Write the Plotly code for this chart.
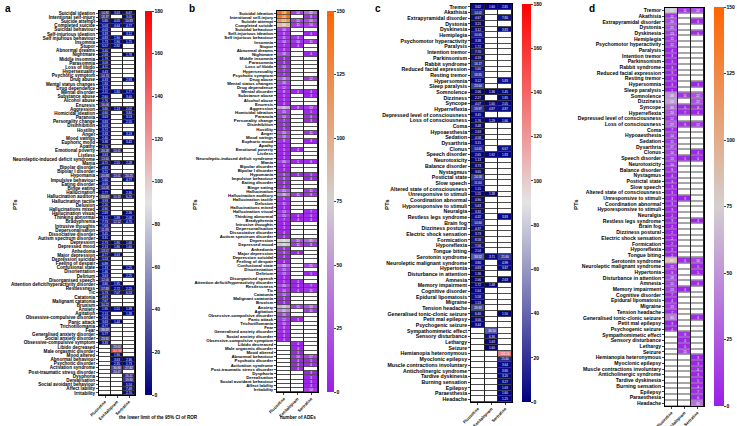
import plotly.graph_objects as go

W, H = 737, 426

drugs = ["Fluoxetine", "Escitalopram", "Sertraline"]

# psychiatric PTs (panels a and b)
psy_pts = [
    "Suicidal ideation", "Intentional self-injury", "Suicide attempt", "Completed suicide",
    "Suicidal behaviour", "Self-injurious ideation", "Self injurious behaviour", "Insomnia",
    "Stupor", "Abnormal dreams", "Nightmare", "Middle insomnia", "Parasomnia", "Loss of libido",
    "Hypersexuality", "Psychotic symptom", "Drug abuse", "Mental status changes",
    "Drug dependence", "Mental disorder", "Substance abuse", "Alcohol abuse", "Enuresis",
    "Aggression", "Homicidal ideation", "Paranoia", "Personality change", "Disinhibition",
    "Hostility", "Anger", "Mood swings", "Euphoric mood", "Apathy", "Emotional poverty",
    "Listless", "Neuroleptic-induced deficit syndrome", "Mania", "Bipolar disorder",
    "Bipolar I disorder", "Hypomania", "Impulsive behaviour", "Eating disorder", "Binge eating",
    "Hallucination", "Hallucination auditory", "Hallucination tactile", "Delusion",
    "Hallucinations mixed", "Hallucination visual", "Thinking abnormal", "Bradyphrenia",
    "Intrusive thoughts", "Depersonalisation", "Dissociative disorder",
    "Autism spectrum disorder", "Depression", "Depressed mood", "Anhedonia", "Major depression",
    "Depression suicidal", "Feeling of despair", "Confusional state", "Disorientation",
    "Delirium", "Disorganised speech", "Attention deficit/hyperactivity disorder",
    "Restlessness", "Tic", "Catatonia", "Malignant catatonia", "Bruxism", "Anxiety",
    "Agitation", "Obsessive-compulsive disorder", "Panic attack", "Trichotillomania", "Fear",
    "Generalised anxiety disorder", "Social anxiety disorder", "Obsessive-compulsive symptom",
    "Libido decreased", "Male orgasmic disorder", "Mood altered", "Abnormal behaviour",
    "Psychotic disorder", "Activation syndrome", "Post-traumatic stress disorder", "Dysphoria",
    "Derealisation", "Social avoidant behaviour", "Affect lability", "Irritability",
]

N = None

psy_ror_flu = [
    14.83, 18.37, 5.80, 5.03, 4.03, 3.33, 4.83, 1.73, 5.57, 3.40,
    2.68, 1.79, 3.09, 4.11, 3.43, 14.70, 4.33, 1.84, 3.11, 2.11,
    2.60, 2.76, 16.06, 3.80, 4.60, 3.63, 3.83, 6.63, 3.72, 3.33,
    2.40, 3.38, 2.70, 20.28, 3.63, 13.60, 4.71, 4.83, 3.21, 20.83,
    5.60, 4.00, 14.08, 1.77, 33.67, 3.93, 2.20, 4.90, 2.83, 3.11,
    7.73, 7.63, 11.89, 3.45, 3.31, 2.73, 2.13, 13.57, 4.77, 5.53,
    6.89, 1.33, 1.46, 3.63, 12.00, 3.80, 17.83, 5.73, 4.63, 7.67,
    10.22, 1.95, 2.13, 3.63, 3.63, 4.77, 39.37, 5.77, 23.92, 3.33,
    N, N, N, N, N, N, N, N, N, N, N, N,
]
psy_ror_esc = [
    3.63, N, 4.05, 4.64, N, N, 1.90, 1.90, 2.82, N,
    N, N, N, N, N, N, N, N, N, 1.80,
    N, N, N, 1.13, N, N, N, N, N, N,
    N, N, N, 10.61, N, N, 2.55, N, N, 13.01,
    N, N, N, N, 10.33, N, N, N, N, 1.89,
    12.52, N, N, N, N, 1.80, 1.86, N, 3.63, N,
    N, N, N, N, N, 1.95, 2.72, 7.07, N, N,
    N, 1.51, N, N, 1.44, N, N, N, N, N,
    29.63, 163.98, 1.90, 3.63, 2.35, 30.80, 24.47, N, N, N, N, N,
]
psy_ror_ser = [
    6.67, 3.05, 10.83, 4.77, N, 3.12, N, 1.75, N, N,
    1.78, N, N, N, N, N, 2.93, N, N, 1.77,
    3.40, N, N, 2.02, 3.84, 3.53, 2.55, N, N, 3.19,
    N, 3.42, N, N, N, N, 2.28, N, N, 20.25,
    4.77, N, N, 2.36, 6.25, N, N, N, 2.36, 2.08,
    4.75, N, N, N, N, 1.68, 1.60, N, N, N,
    N, 1.25, N, 2.25, N, N, 2.25, 6.53, N, N,
    N, 1.39, 1.38, N, N, N, N, N, N, N,
    N, N, N, 2.36, 1.73, 27.82, N, 16.41, 19.80, 5.54, 7.49, 2.70,
]

psy_n_flu = [
    148, 140, 115, 90, 14, 8, 11, 14, 7, 8,
    18, 3, 3, 10, 7, 7, 26, 16, 12, 8,
    5, 5, 4, 55, 15, 14, 7, 5, 5, 20,
    18, 8, 5, 5, 3, 3, 20, 6, 3, 9,
    8, 4, 4, 25, 38, 6, 11, 3, 13, 15,
    7, 3, 3, 4, 4, 75, 70, 6, 9, 4,
    4, 33, 15, 13, 3, 5, 20, 10, 14, 3,
    3, 58, 45, 16, 12, 10, 8, 8, 4, 4,
    N, N, N, N, N, N, N, N, N, N, N, N,
]
psy_n_esc = [
    14, N, 15, 11, N, N, 9, 10, 4, N,
    N, N, N, N, N, N, N, N, N, 4,
    N, N, N, 9, N, N, N, N, N, N,
    N, N, N, 4, N, N, 5, N, N, 3,
    N, N, N, N, 11, N, N, N, N, 4,
    4, N, N, N, N, 20, 11, N, 4, N,
    N, N, N, N, N, 4, 4, 4, N, N,
    N, 15, N, N, 3, N, N, N, N, N,
    4, 3, 3, 10, 4, 4, 4, N, N, N, N, N,
]
psy_n_ser = [
    32, 8, 20, 14, N, 4, N, 11, N, N,
    4, N, N, N, N, N, 12, N, N, 4,
    3, N, N, 13, 5, 6, 3, N, N, 11,
    N, 4, N, N, N, N, 6, N, N, 5,
    4, N, N, 11, 9, N, N, N, 7, 6,
    4, N, N, N, N, 31, 8, N, N, N,
    N, 21, N, 5, N, N, 7, 11, N, N,
    N, 24, 11, N, N, N, N, N, N, N,
    N, N, N, 17, 5, 6, N, 3, 3, 3, 3, 14,
]

# nervous system PTs (panels c and d)
neu_pts = [
    "Tremor", "Akathisia", "Extrapyramidal disorder", "Dystonia", "Dyskinesia", "Hemiplegia",
    "Psychomotor hyperactivity", "Paralysis", "Intention tremor", "Parkinsonism",
    "Rabbit syndrome", "Reduced facial expression", "Resting tremor", "Hypersomnia",
    "Sleep paralysis", "Somnolence", "Dizziness", "Syncope", "Hyperreflexia",
    "Depressed level of consciousness", "Loss of consciousness", "Coma", "Hypoaesthesia",
    "Sedation", "Dysarthria", "Clonus", "Speech disorder", "Neurotoxicity", "Balance disorder",
    "Nystagmus", "Postictal state", "Slow speech", "Altered state of consciousness",
    "Unresponsive to stimuli", "Coordination abnormal", "Hyporesponsive to stimuli",
    "Neuralgia", "Restless legs syndrome", "Brain fog", "Dizziness postural",
    "Electric shock sensation", "Formication", "Hyporeflexia", "Tongue biting",
    "Serotonin syndrome", "Neuroleptic malignant syndrome", "Hypertonia",
    "Disturbance in attention", "Amnesia", "Memory impairment", "Cognitive disorder",
    "Epidural lipomatosis", "Migraine", "Tension headache", "Generalised tonic-clonic seizure",
    "Petit mal epilepsy", "Psychogenic seizure", "Sympathomimetic effect",
    "Sensory disturbance", "Lethargy", "Seizure", "Hemianopia heteronymous",
    "Myoclonic epilepsy", "Muscle contractions involuntary", "Anticholinergic syndrome",
    "Tardive dyskinesia", "Burning sensation", "Epilepsy", "Paraesthesia", "Headache",
]

neu_ror_flu = [
    3.62, 14.02, 4.67, 3.21, 3.12, 10.65, 3.38, 1.72, 7.70, 4.19,
    16.17, 5.60, 18.85, 3.12, 23.64, 2.06, 2.27, 4.07, 19.97, 3.45,
    1.76, 3.48, 2.63, 4.58, 3.15, 14.65, 2.65, 1.13, 3.73, 3.65,
    24.58, 11.60, 1.15, 1.55, 4.90, 5.63, 3.32, 4.32, 14.60, 4.37,
    3.73, 8.58, 7.56, 2.54, 33.52, 3.80, 4.83, 1.36, 2.06, 1.72,
    1.64, 5.58, 1.53, 28.83, 6.40, 3.00, 3.44, N, N, N,
    N, N, N, N, N, N, N, N, N, N,
]
neu_ror_esc = [
    1.60, N, N, N, N, N, N, N, N, N,
    N, N, N, N, N, 1.36, N, 1.60, 4.87, N,
    1.29, N, N, N, N, N, 1.92, N, N, N,
    N, N, N, 1.38, N, N, N, N, N, N,
    N, N, N, N, 3.71, N, N, N, N, 1.48,
    N, N, N, N, N, N, N, 36.50, 6.36, 1.63,
    1.60, N, N, N, N, N, N, N, N, N,
]
neu_ror_ser = [
    2.81, N, 7.80, N, 3.83, N, N, N, N, N,
    N, N, N, 5.83, N, 1.45, 1.85, 2.05, 4.87, N,
    1.66, N, N, N, N, 6.67, 1.83, N, N, N,
    N, N, N, N, N, N, N, 3.83, N, N,
    N, N, N, N, 21.60, 4.99, 3.87, N, 2.63, N,
    N, N, N, N, 1.50, N, N, N, N, N,
    N, 133.16, 15.60, 3.64, 3.80, 3.20, 3.27, 1.63, 1.60, 1.25,
]

neu_n_flu = [
    72, 11, 20, 21, 13, 11, 12, 4, 3, 3,
    3, 3, 3, 3, 1, 48, 53, 33, 24, 12,
    27, 7, 14, 11, 17, 14, 13, 10, 9, 4,
    3, 3, 3, 3, 3, 3, 2, 3, 2, 2,
    2, 2, 2, 2, 85, 12, 9, 18, 15, 13,
    7, 4, 13, 7, 40, 3, 4, N, N, N,
    N, N, N, N, N, N, N, N, N, N,
]
neu_n_esc = [
    11, N, N, N, N, N, N, N, N, N,
    N, N, N, N, N, 11, N, 5, 7, N,
    9, N, N, N, N, N, 5, N, N, N,
    N, N, N, 3, N, N, N, N, N, N,
    N, N, N, N, 6, N, N, N, N, 4,
    N, N, N, N, N, N, N, 8, 4, 5,
    15, N, N, N, N, N, N, N, N, N,
]
neu_n_ser = [
    22, N, 6, N, 6, N, N, N, N, N,
    N, N, N, 3, N, 22, 22, 8, 4, N,
    12, N, N, N, N, 4, 6, N, N, N,
    N, N, N, N, N, N, N, 4, N, N,
    N, N, N, N, 16, 5, 5, N, 6, N,
    N, N, N, N, 6, N, N, N, N, N,
    N, 3, 3, 6, 3, 5, 4, 7, 6, 35,
]

ror_ticks = [0, 20, 40, 60, 80, 100, 120, 140, 160, 180]
ade_ticks = [0, 25, 50, 75, 100, 125, 150]

ror_scale = [[0, "#000080"], [0.5, "#e4e4e4"], [1, "#ff0000"]]
ade_scale = [[0, "#9a1ee8"], [0.5, "#d3d0d0"], [1, "#ff6400"]]

FONT = "Liberation Sans"

# pixel geometry of each panel: heatmap box, colorbar, labels
panels = [
    dict(letter="a", pts=psy_pts, cols=[psy_ror_flu, psy_ror_esc, psy_ror_ser], fmt="{:.2f}",
         scale=ror_scale, ticks=ror_ticks, box=(99, 135, 11, 395), cb=(145, 7, 11, 395),
         letter_x=3, pts_x=10, fs=4.6, title="the lower limit of the 95% CI of ROR", title_x=117),
    dict(letter="b", pts=psy_pts, cols=[psy_n_flu, psy_n_esc, psy_n_ser], fmt="{:d}",
         scale=ade_scale, ticks=ade_ticks, box=(277, 318, 11, 392), cb=(327, 7, 11, 392),
         letter_x=187, pts_x=190, fs=4.3, title="number of ADEs", title_x=298),
    dict(letter="c", pts=neu_pts, cols=[neu_ror_flu, neu_ror_esc, neu_ror_ser], fmt="{:.2f}",
         scale=ror_scale, ticks=ror_ticks, box=(471, 512, 4, 402), cb=(522, 9, 4, 402),
         letter_x=373, pts_x=387, fs=5.2, title=None, title_x=None),
    dict(letter="d", pts=neu_pts, cols=[neu_n_flu, neu_n_esc, neu_n_ser], fmt="{:d}",
         scale=ade_scale, ticks=ade_ticks, box=(665, 704, 7.5, 406), cb=(714, 10, 7, 406),
         letter_x=587, pts_x=581, fs=5.1, title=None, title_x=None),
]

fig = go.Figure()
layout = {}
annotations = []

for i, p in enumerate(panels, start=1):
    sfx = "" if i == 1 else str(i)
    xa, ya = "x" + sfx, "y" + sfx
    n = len(p["pts"])
    for c in p["cols"]:
        assert len(c) == n, (p["letter"], len(c))

    z = [[p["cols"][j][r] for j in range(3)] for r in range(n)]
    txt = [["" if v is None else p["fmt"].format(v) for v in row] for row in z]
    blank = [[0, 0, 0] for _ in range(n)]

    # white underlay so empty cells show white with dark grid lines
    fig.add_trace(go.Heatmap(
        x=drugs, y=p["pts"], z=blank, xaxis=xa, yaxis=ya,
        colorscale=[[0, "white"], [1, "white"]], showscale=False,
        xgap=1, ygap=0.8, hoverinfo="skip",
    ))

    x0, x1, y0, y1 = p["box"]
    cbx, cbw, cby0, cby1 = p["cb"]
    ticks = p["ticks"]
    fig.add_trace(go.Heatmap(
        x=drugs, y=p["pts"], z=z, xaxis=xa, yaxis=ya,
        text=txt, texttemplate="%{text}",
        textfont=dict(size=3, color="white", family=FONT),
        colorscale=p["scale"], zmin=ticks[0], zmax=ticks[-1],
        xgap=1, ygap=0.8,
        colorbar=dict(
            x=cbx / W, xanchor="left", y=1 - cby1 / H, yanchor="bottom",
            len=(cby1 - cby0) / H, lenmode="fraction",
            thickness=cbw, thicknessmode="pixels", xpad=0, ypad=0,
            outlinewidth=0, tickvals=ticks, ticks="outside", ticklen=2, tickwidth=0.6,
            tickfont=dict(size=5, family=FONT, color="black", weight="bold"),
        ),
    ))

    layout["xaxis" + sfx] = dict(
        domain=[x0 / W, x1 / W], anchor=ya, tickangle=-45, automargin=False,
        tickfont=dict(size=4.1, family=FONT, weight="bold"),
        ticks="outside", ticklen=2, tickwidth=0.6,
        showline=True, linecolor="black", linewidth=0.8, mirror=True,
        showgrid=False, zeroline=False,
    )
    layout["yaxis" + sfx] = dict(
        domain=[1 - y1 / H, 1 - y0 / H], anchor=xa, autorange="reversed", automargin=False,
        tickmode="array", tickvals=p["pts"], ticktext=p["pts"],
        tickfont=dict(size=p["fs"], family=FONT, weight="bold"),
        ticks="outside", ticklen=2, tickwidth=0.5,
        showline=True, linecolor="black", linewidth=0.8, mirror=True,
        showgrid=False, zeroline=False,
    )

    annotations.append(dict(
        x=p["letter_x"] / W, y=1 - 1 / H, xref="paper", yref="paper",
        xanchor="left", yanchor="top", text="<b>%s</b>" % p["letter"], showarrow=False,
        font=dict(size=10, family=FONT, color="black"),
    ))
    annotations.append(dict(
        x=p["pts_x"] / W, y=1 - 205 / H, xref="paper", yref="paper",
        text="<b>PTs</b>", textangle=-90, showarrow=False,
        font=dict(size=6, family=FONT, color="black"),
    ))
    if p["title"]:
        annotations.append(dict(
            x=p["title_x"] / W, y=1 - 422 / H, xref="paper", yref="paper",
            text="<b>%s</b>" % p["title"], showarrow=False,
            font=dict(size=4.6, family=FONT, color="black"),
        ))

fig.update_layout(
    width=W, height=H,
    margin=dict(l=0, r=0, t=0, b=0),
    paper_bgcolor="white", plot_bgcolor="#222222",
    font=dict(family=FONT, color="black"),
    annotations=annotations,
    showlegend=False,
    hovermode=False,
    **layout,
)

# drop the browser's default body margin so the figure sits at the page corner
fig.write_html(
    "out.html",
    config={"displayModeBar": False},
    post_script="document.body.style.margin='0';",
)
